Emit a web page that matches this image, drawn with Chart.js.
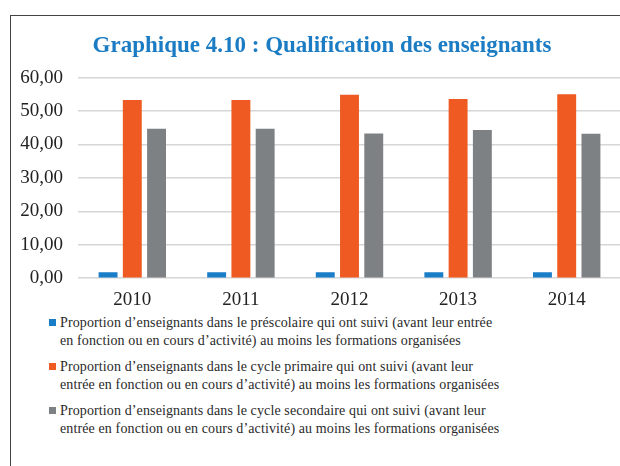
<!DOCTYPE html>
<html>
<head>
<meta charset="utf-8">
<script src="https://cdn.jsdelivr.net/npm/chart.js@4/dist/chart.umd.min.js"></script>
<style>
  html, body { margin: 0; padding: 0; background: #fff; }
  body { width: 620px; height: 466px; position: relative; overflow: hidden; }
  #frame { position: absolute; left: 10px; top: 15px; width: 640px; height: 480px; border: 1px solid #444; box-sizing: border-box; }
  #wrap { position: absolute; left: 11px; top: 16px; width: 622px; height: 297px; }
  #legend { position: absolute; left: 49px; top: 314px; width: 560px; font-family: "Liberation Serif", serif; font-size: 14px; letter-spacing: 0.12px; color: #2a2a2a; line-height: 18px; white-space: nowrap; }
  .item { position: relative; padding-left: 11px; margin-bottom: 8px; }
  .sw { position: absolute; left: 0; top: 5px; width: 7px; height: 7px; }
</style>
</head>
<body>
<div id="frame"></div>
<div id="wrap"><canvas id="c"></canvas></div>
<div id="legend"></div>
<script>
const categories = ["2010", "2011", "2012", "2013", "2014"];
const seriesNames = [
  "Proportion d\u2019enseignants dans le préscolaire qui ont suivi (avant leur entrée en fonction ou en cours d\u2019activité) au moins les formations organisées",
  "Proportion d\u2019enseignants dans le cycle primaire qui ont suivi (avant leur entrée en fonction ou en cours d\u2019activité) au moins les formations organisées",
  "Proportion d\u2019enseignants dans le cycle secondaire qui ont suivi (avant leur entrée en fonction ou en cours d\u2019activité) au moins les formations organisées"
];
const prescolaire = [1.8, 1.8, 1.8, 1.8, 1.8];
const primaire = [53.3, 53.3, 54.9, 53.6, 55.0];
const secondaire = [44.7, 44.7, 43.3, 44.3, 43.2];
const yTicks = [0, 10, 20, 30, 40, 50, 60];
const colors = ["#1a7dc8", "#ee5a22", "#7e8183"];

const legendBreaks = [
  ["Proportion d\u2019enseignants dans le préscolaire qui ont suivi (avant leur entrée", "en fonction ou en cours d\u2019activité) au moins les formations organisées"],
  ["Proportion d\u2019enseignants dans le cycle primaire qui ont suivi (avant leur", "entrée en fonction ou en cours d\u2019activité) au moins les formations organisées"],
  ["Proportion d\u2019enseignants dans le cycle secondaire qui ont suivi (avant leur", "entrée en fonction ou en cours d\u2019activité) au moins les formations organisées"]
];

const leg = document.getElementById("legend");
legendBreaks.forEach((lines, i) => {
  const d = document.createElement("div");
  d.className = "item";
  const s = document.createElement("span");
  s.className = "sw";
  s.style.background = colors[i];
  d.appendChild(s);
  lines.forEach((t, k) => {
    if (k) d.appendChild(document.createElement("br"));
    d.appendChild(document.createTextNode(t));
  });
  leg.appendChild(d);
});

const shiftTitle = {
  id: "shiftTitle",
  afterLayout(chart) {
    const t = chart.titleBlock;
    if (t) { t.left += 6; t.right += 6; }
  }
};

const data = [prescolaire, primaire, secondaire];
new Chart(document.getElementById("c"), {
  type: "bar",
  plugins: [shiftTitle],
  data: {
    labels: categories,
    datasets: data.map((d, i) => ({
      label: seriesNames[i],
      data: d,
      backgroundColor: colors[i],
      borderWidth: 0,
      categoryPercentage: 0.67,
      barPercentage: 0.78
    }))
  },
  options: {
    responsive: true,
    maintainAspectRatio: false,
    animation: false,
    layout: { padding: { top: 0, right: 12, bottom: 0, left: 0 } },
    plugins: {
      legend: { display: false },
      tooltip: { enabled: false },
      title: {
        display: true,
        text: "Graphique 4.10 : Qualification des enseignants",
        color: "#1b7cc3",
        font: { family: "Liberation Serif", size: 23, weight: "bold" },
        padding: { top: 16, bottom: 18 }
      }
    },
    scales: {
      x: {
        grid: { display: false },
        border: { display: false },
        ticks: { color: "#222", font: { family: "Liberation Serif", size: 19 }, padding: 2 }
      },
      y: {
        min: 0, max: 60,
        afterBuildTicks: (s) => { s.ticks = yTicks.map(v => ({ value: v })); },
        afterFit: (s) => { s.width = 67; },
        grid: { color: "#d6d6d6", lineWidth: 1.5, drawTicks: false },
        border: { display: false },
        ticks: {
          color: "#222",
          font: { family: "Liberation Serif", size: 19 },
          padding: 15,
          callback: (v) => v.toFixed(2).replace(".", ",")
        }
      }
    }
  }
});
</script>
</body>
</html>
